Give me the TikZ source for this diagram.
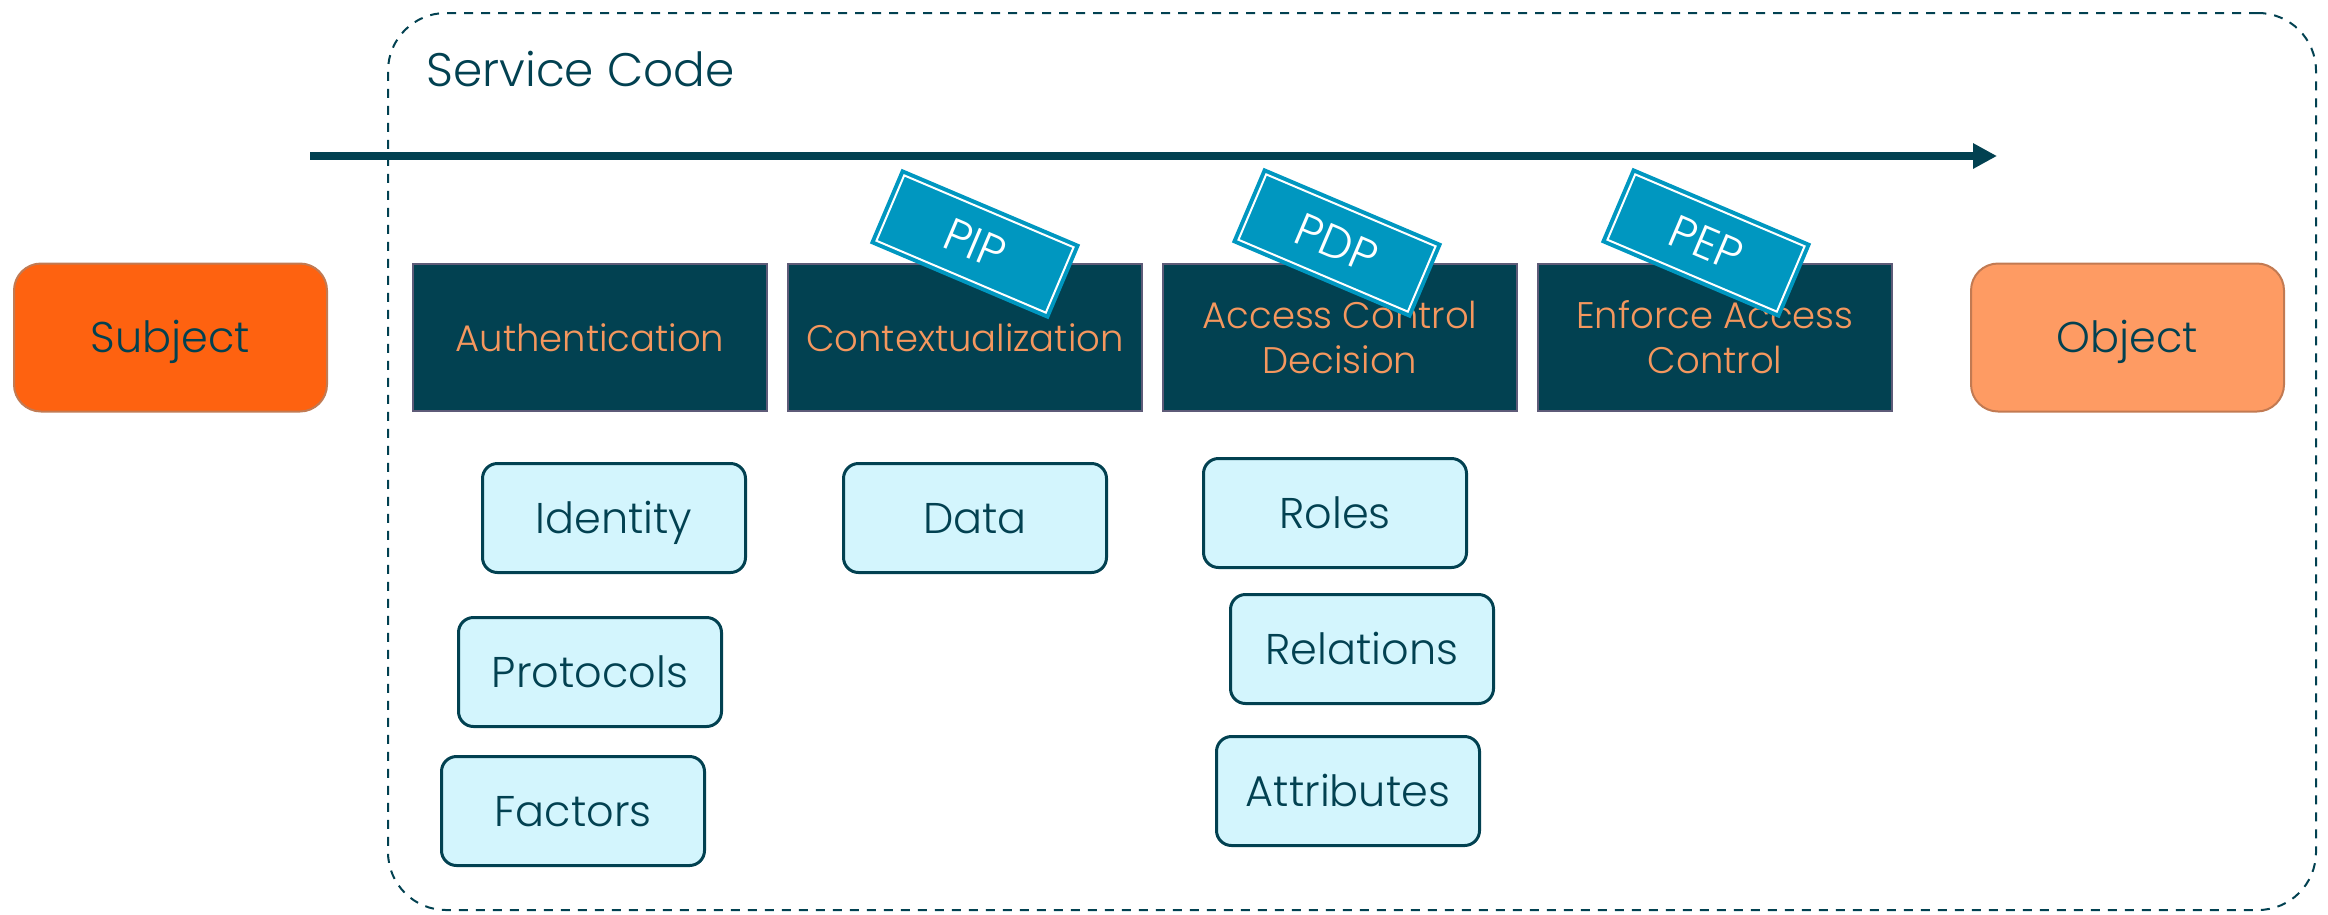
\documentclass[tikz,border=0pt]{standalone}
\usepackage{fontspec}
\setmainfont{Poppins}[UprightFont=* Light]
\usepackage{tikz}
\usetikzlibrary{arrows.meta}
\usetikzlibrary{positioning}

\definecolor{codeteal}{HTML}{024151}
\definecolor{stageedge}{HTML}{5E5B78}
\definecolor{stagetext}{HTML}{F5975E}
\definecolor{tagblue}{HTML}{0097C0}
\definecolor{subjectfill}{HTML}{FE6210}
\definecolor{objectfill}{HTML}{FE9B63}
\definecolor{actoredge}{HTML}{C27A52}
\definecolor{detailfill}{HTML}{D3F5FD}

\begin{document}
\begin{tikzpicture}[x=1pt, y=-1pt,
    node distance=19pt,
    every node/.style = {text=codeteal, font=\fontsize{43}{50}\selectfont},
    codebox/.style = {rectangle, draw=codeteal, line width=2pt,
      dash pattern=on 9pt off 8pt, rounded corners=58pt,
      minimum width=1928pt, minimum height=897pt},
    stagebox/.style = {rectangle, draw=stageedge, line width=2pt,
      fill=codeteal, minimum width=354pt, minimum height=147pt,
      inner sep=0pt, align=center, text=stagetext,
      font=\fontsize{37}{45}\selectfont},
    actorbox/.style = {rectangle, rounded corners=27pt, draw=actoredge,
      line width=2pt, minimum width=313pt, minimum height=148pt,
      text height=30pt, text depth=0pt},
    detailbox/.style = {rectangle, rounded corners=15pt, draw=codeteal,
      line width=3pt, fill=detailfill, minimum width=263pt,
      minimum height=109pt, text height=30pt, text depth=0pt},
    tagbox/.style = {rectangle, rotate=-23, fill=tagblue, draw=white,
      line width=2pt, preaction={draw=tagblue, line width=10pt},
      minimum width=184pt, minimum height=71pt, inner sep=0pt,
      text=white, font=\fontsize{46}{52}\selectfont,
      text height=32pt, text depth=0pt},
    flowarrow/.style = {draw=codeteal, line width=8pt,
      -{Triangle[length=24pt,width=24pt]}}]

  \useasboundingbox (0,0) rectangle (2328,914);

  % service code frame
  \node[codebox] (service) at (1352,461.5) {};
  \node[anchor=base west, font=\fontsize{47}{56}\selectfont]
    (servicelabel) at ([xshift=36pt,yshift=-74pt]service.north west) {Service Code};

  % flow
  \coordinate (flowin) at (310,156);
  \coordinate (flowout) at (1997,156);
  \draw[flowarrow] (flowin) -- (flowout);

  % stages
  \node[stagebox] (authn) at (590,337.5) {Authentication};
  \node[stagebox, right=of authn] (context) {Contextualization};
  \node[stagebox, right=of context] (decision) {Access Control\\Decision};
  \node[stagebox, right=of decision] (enforce) {Enforce Access\\Control};

  \node[actorbox, fill=subjectfill, left=84pt of authn] (subject) {Subject};
  \node[actorbox, fill=objectfill, right=77pt of enforce] (object) {Object};

  % what each stage needs
  \node[detailbox, below=50pt of authn, xshift=24pt] (identity) {Identity};
  \node[detailbox, below=42pt of identity, xshift=-24pt] (protocols) {Protocols};
  \node[detailbox, below=27pt of protocols, xshift=-17pt] (factors) {Factors};
  \node[detailbox, below=50pt of context, xshift=10pt] (data) {Data};
  \node[detailbox, below=45pt of decision, xshift=-5pt] (roles) {Roles};
  \node[detailbox, below=24pt of roles, xshift=27pt] (relations) {Relations};
  \node[detailbox, below=30pt of relations, xshift=-14pt] (attributes) {Attributes};

  % policy points
  \node[tagbox] (pip) at ([xshift=10pt,yshift=19pt]context.north) {PIP};
  \node[tagbox] (pdp) at ([xshift=-3pt,yshift=20pt]decision.north) {PDP};
  \node[tagbox] (pep) at ([xshift=-9pt,yshift=20pt]enforce.north) {PEP};
\end{tikzpicture}
\end{document}
